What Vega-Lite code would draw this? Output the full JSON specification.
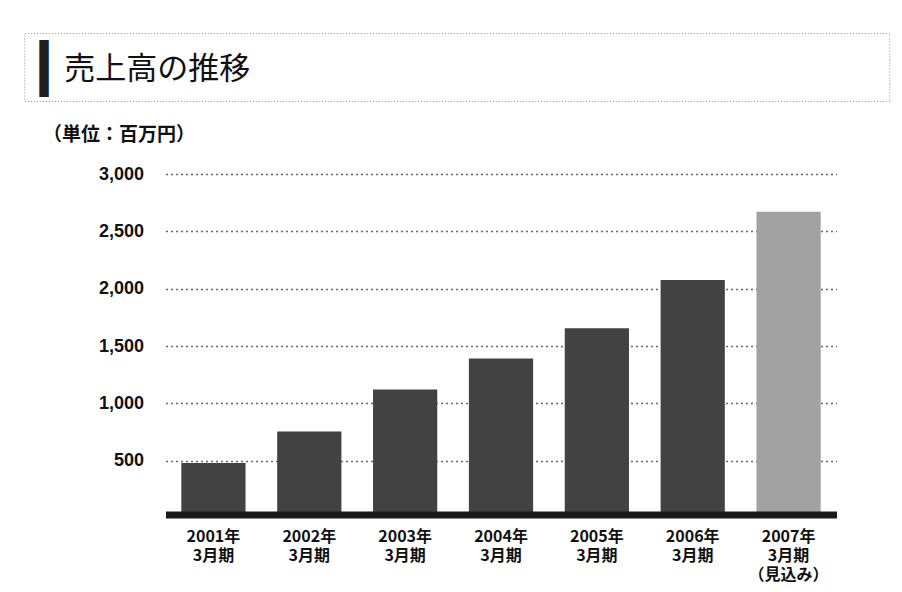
{
  "$schema": "https://vega.github.io/schema/vega-lite/v6.json",
  "padding": {"left": 23, "top": 32, "right": 12, "bottom": 8},
  "background": "white",
  "bounds": "full",
  "center": true,
  "spacing": 23,
  "vconcat": [
    {
      "width": 865,
      "height": 68,
      "view": {"stroke": "#8a8a8a", "strokeDash": [1, 2], "strokeWidth": 1},
      "title": {
        "text": "売上高の推移",
        "orient": "bottom",
        "anchor": "start",
        "frame": "group",
        "baseline": "alphabetic",
        "offset": -22,
        "dx": 40,
        "font": "Noto Sans CJK JP",
        "fontSize": 31,
        "fontWeight": "normal",
        "color": "#111111"
      },
      "data": {"values": [{"k": "header"}]},
      "mark": {"type": "text"},
      "encoding": {
        "x": {
          "field": "k",
          "type": "nominal",
          "axis": {
            "title": "▎",
            "labels": false,
            "ticks": false,
            "domain": false,
            "grid": false,
            "titleFont": "DejaVu Sans",
            "titleFontSize": 48,
            "titleFontWeight": "normal",
            "titleColor": "#1e1e1e",
            "titleX": 15,
            "titleY": -7,
            "titleAlign": "left",
            "titleBaseline": "bottom",
            "titleAngle": 0
          }
        },
        "y": {
          "field": "k",
          "type": "nominal",
          "axis": {
            "orient": "right",
            "title": " ",
            "labels": false,
            "ticks": false,
            "domain": false,
            "grid": false,
            "titleFontSize": 12,
            "titleX": 88,
            "titleY": 30,
            "titleAlign": "right",
            "titleBaseline": "middle",
            "titleAngle": 0
          }
        },
        "text": {"value": ""}
      }
    },
    {
      "width": 671,
      "height": 344,
      "view": {"stroke": null},
      "data": {
        "values": [
          {"period": "2001年3月期", "sales": 480, "type": "実績"},
          {"period": "2002年3月期", "sales": 755, "type": "実績"},
          {"period": "2003年3月期", "sales": 1120, "type": "実績"},
          {"period": "2004年3月期", "sales": 1390, "type": "実績"},
          {"period": "2005年3月期", "sales": 1655, "type": "実績"},
          {"period": "2006年3月期", "sales": 2075, "type": "実績"},
          {"period": "2007年3月期（見込み）", "sales": 2670, "type": "見込み"}
        ]
      },
      "mark": {"type": "bar"},
      "encoding": {
        "x": {
          "field": "period",
          "type": "nominal",
          "sort": null,
          "scale": {"paddingInner": 0.33, "paddingOuter": 0.165},
          "axis": {
            "title": null,
            "domainColor": "#1a1a1a",
            "domainWidth": 7,
            "offset": -3.5,
            "zindex": 1,
            "ticks": false,
            "labelAngle": 0,
            "labelFont": "Noto Sans CJK JP",
            "labelFontSize": 16,
            "labelFontWeight": "bold",
            "labelColor": "#111111",
            "labelPadding": 14,
            "labelLineHeight": 19,
            "labelBaseline": "top",
            "labelExpr": "split(replace(replace(datum.value, '年', '年|'), '（', '|（'), '|')"
          }
        },
        "y": {
          "field": "sales",
          "type": "quantitative",
          "scale": {"domain": [0, 3000]},
          "axis": {
            "title": "（単位：百万円）",
            "titleFont": "Noto Sans CJK JP",
            "titleFontSize": 19,
            "titleFontWeight": "bold",
            "titleColor": "#111111",
            "titleAngle": 0,
            "titleX": -123,
            "titleY": -34,
            "titleAlign": "left",
            "titleBaseline": "alphabetic",
            "minExtent": 141,
            "values": [500, 1000, 1500, 2000, 2500, 3000],
            "format": ",d",
            "domain": false,
            "ticks": false,
            "labelPadding": 22,
            "labelFont": "Liberation Sans",
            "labelFontSize": 18,
            "labelFontWeight": "bold",
            "labelColor": "#111111",
            "grid": true,
            "gridColor": "#666666",
            "gridDash": [2, 3],
            "gridWidth": 1.5
          }
        },
        "fill": {
          "field": "type",
          "type": "nominal",
          "scale": {"domain": ["実績", "見込み"], "range": ["#424242", "#a2a2a2"]},
          "legend": null
        }
      }
    }
  ],
  "config": {"view": {"stroke": null}}
}
